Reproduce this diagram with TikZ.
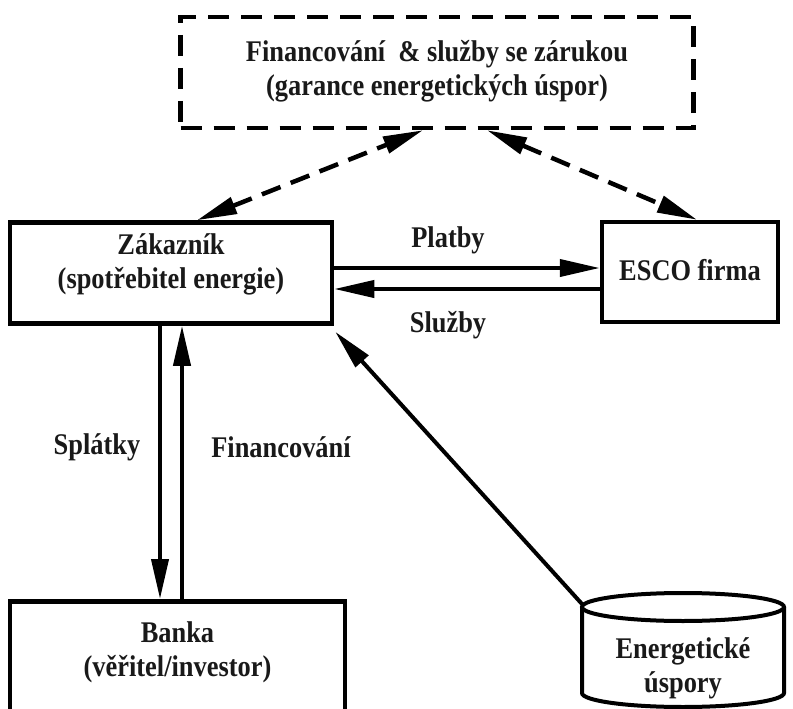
\documentclass[tikz,border=0pt]{standalone}
\usepackage{fontspec}
\setmainfont{Liberation Serif}
\newfontfamily\diagfont[FakeStretch=0.88]{Liberation Serif}
\usetikzlibrary{arrows.meta,calc}
\begin{document}
\begin{tikzpicture}[x=1pt,y=-1pt,
  box/.style={draw, line width=4.5pt, rectangle, inner sep=0pt},
  dbox/.style={box, dash pattern=on 21pt off 12pt},
  txt/.style={font=\diagfont\fontsize{30}{34}\selectfont\bfseries, align=center, inner sep=0pt, text=black!90},
  conn/.style={line width=4pt, -{Triangle[length=40pt,width=17pt]}},
  dconn/.style={line width=4.5pt, dash pattern=on 20pt off 11pt, {Triangle[length=40pt,width=17pt]}-{Triangle[length=40pt,width=17pt]}},
]
\useasboundingbox (0,0) rectangle (793,709);
\clip (0,0) rectangle (793,709);

% top dashed box
\node[dbox, minimum width=513pt, minimum height=111pt] (top) at (437,72.5) {};
\node[txt] (toptext) at (437,71) {Financování \ \& služby se zárukou\\(garance energetických úspor)};

% customer
\node[box, minimum width=322pt, minimum height=101pt] (zak) at (171,273) {};
\node[txt] (zaktext) at (171,264) {Zákazník\\(spotřebitel energie)};

% ESCO
\node[box, minimum width=176pt, minimum height=100pt] (esco) at (690,272) {};
\node[txt] (escotext) at (690,270) {ESCO firma};

% bank
\node[box, minimum width=335pt, minimum height=200pt, anchor=north] (banka) at (177.5,599) {};
\node[txt] (bankatext) at (177.5,652) {Banka\\(věřitel/investor)};

% savings cylinder
\draw[line width=4pt] (683,607) ellipse [x radius=101pt, y radius=14pt];
\draw[line width=4pt] (582,607) -- (582,693) arc[start angle=180, end angle=360, x radius=101pt, y radius=14pt] -- (784,607);
\coordinate (cyl) at (582,604);
\node[txt] (cyltext) at (683,668) {Energetické\\úspory};

% connectors
\draw[dconn] ([xshift=26pt]zak.north) -- ([xshift=-14pt]top.south);
\draw[dconn] ([xshift=50pt]top.south) -- ([xshift=7pt]esco.north);

\draw[conn] ([yshift=5pt]zak.east) -- ([yshift=5pt]zak.east -| esco.west);
\draw[conn] ([yshift=-17pt]esco.west) -- ([yshift=-17pt]esco.west -| zak.east);

\draw[conn] ([xshift=-11pt]zak.south) -- ([xshift=-11pt]zak.south |- banka.north);
\draw[conn] ([xshift=11pt]zak.south |- banka.north) -- ([xshift=11pt]zak.south);

\draw[conn] (cyl) -- ([shift={(1pt,-6pt)}]zak.south east);

% labels
\node[txt] (platby) at (448,240) {Platby};
\node[txt] (sluzby) at (448,325) {Služby};
\node[txt] (splatky) at (97,447) {Splátky};
\node[txt] (financ) at (281,447) {Financování};
\end{tikzpicture}
\end{document}
